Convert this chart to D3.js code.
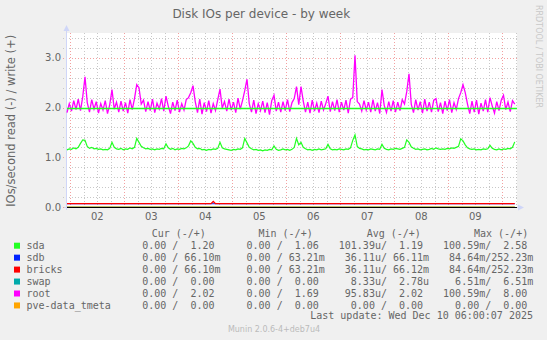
<!DOCTYPE html>
<html>
<head>
<meta charset="utf-8">
<title>Disk IOs per device - by week</title>
<script src="https://d3js.org/d3.v7.min.js"></script>
<style>
  body { margin: 0; background: #f0f0f0; }
  svg { display: block; }
  text { fill: #666; font-family: "DejaVu Sans", sans-serif; }
  .mono { font-family: "DejaVu Sans Mono", monospace; font-size: 10px; white-space: pre; }
</style>
</head>
<body>
<svg></svg>
<script>
var svgWidth = 547, svgHeight = 340;

// time axis: one sample per hour starting at startTime
var startTime = new Date(2025, 11, 1, 22, 30);
var endTime   = new Date(2025, 11, 10, 6, 30);
var dayLabels = [2, 3, 4, 5, 6, 7, 8, 9];
var yTicks    = [0, 1, 2, 3];

// root write IOs/s (magenta)
var rootWrite = [
  1.90,2.08,1.93,2.14,1.96,2.17,1.94,2.22,2.62,2.10,1.91,2.16,1.97,2.12,1.89,2.08,1.95,2.14,1.88,2.06,2.36,1.97,2.11,1.91,
  2.13,1.93,2.10,1.89,2.16,1.96,2.18,2.46,2.40,2.07,2.15,1.92,2.12,1.94,2.17,1.90,2.09,1.97,2.18,1.93,2.23,2.03,1.88,2.11,
  1.94,2.15,1.91,2.08,1.95,2.16,2.20,2.30,2.44,2.12,1.90,2.17,1.87,2.10,1.92,2.14,1.89,2.08,1.94,2.16,2.37,1.99,2.12,1.93,
  2.17,1.95,2.11,1.90,2.19,1.97,2.14,2.34,2.57,2.08,1.91,2.15,1.88,2.08,1.94,2.13,1.90,2.10,1.86,2.14,2.25,1.93,2.11,1.91,
  2.12,1.94,2.16,1.92,2.10,2.18,2.42,2.06,2.42,2.13,1.91,2.11,1.89,2.15,1.93,2.09,1.90,2.13,1.95,2.08,2.23,1.92,2.12,1.94,
  2.16,1.91,2.11,1.95,2.15,1.89,2.17,2.20,3.05,2.12,2.07,1.93,2.14,1.95,2.11,1.91,2.16,1.93,2.10,1.88,2.36,2.04,1.90,2.12,
  1.93,2.14,1.91,2.11,1.94,2.16,2.07,2.32,2.68,2.07,1.90,2.16,1.95,2.12,1.89,2.17,1.93,2.11,1.91,2.15,2.18,1.92,2.10,1.88,
  2.13,1.94,2.16,1.90,2.10,1.96,2.18,2.30,2.46,2.30,2.07,1.88,2.13,1.91,2.15,1.87,2.09,1.93,2.16,1.91,2.20,2.03,1.89,2.12,
  1.94,2.15,2.25,1.96,2.11,1.92,2.14,2.07
];

// sda write IOs/s (green)
var sdaWrite = [
  1.15,1.17,1.16,1.19,1.17,1.20,1.28,1.35,1.34,1.22,1.18,1.20,1.17,1.18,1.16,1.17,1.15,1.16,1.15,1.18,1.30,1.20,1.17,1.16,
  1.18,1.15,1.17,1.16,1.19,1.17,1.20,1.38,1.30,1.22,1.19,1.17,1.18,1.16,1.17,1.15,1.17,1.16,1.18,1.17,1.27,1.19,1.16,1.18,
  1.15,1.17,1.16,1.18,1.17,1.19,1.23,1.33,1.28,1.20,1.17,1.18,1.15,1.16,1.14,1.16,1.15,1.17,1.16,1.18,1.30,1.19,1.17,1.16,
  1.15,1.14,1.16,1.15,1.17,1.16,1.19,1.38,1.29,1.20,1.17,1.15,1.16,1.14,1.15,1.13,1.15,1.14,1.16,1.15,1.23,1.16,1.14,1.15,
  1.17,1.15,1.16,1.14,1.16,1.20,1.38,1.25,1.30,1.20,1.17,1.15,1.16,1.14,1.16,1.15,1.17,1.15,1.16,1.17,1.26,1.17,1.15,1.16,
  1.15,1.17,1.16,1.15,1.17,1.16,1.19,1.34,1.45,1.22,1.18,1.17,1.15,1.16,1.15,1.17,1.16,1.15,1.17,1.16,1.26,1.18,1.16,1.15,
  1.17,1.16,1.18,1.17,1.16,1.18,1.20,1.35,1.30,1.21,1.18,1.16,1.17,1.15,1.16,1.17,1.15,1.16,1.18,1.16,1.19,1.17,1.16,1.17,
  1.16,1.18,1.17,1.19,1.18,1.20,1.22,1.37,1.33,1.25,1.19,1.17,1.16,1.17,1.15,1.16,1.15,1.17,1.16,1.17,1.24,1.18,1.16,1.15,
  1.17,1.15,1.17,1.16,1.18,1.17,1.20,1.31
];

// nearly flat series, given as [hour offset, value]
var sdbWrite    = [[0, 0.066], [199, 0.066]];
var bricksWrite = [[0, 0.066], [64, 0.066], [65, 0.11], [66, 0.066], [199, 0.066]];
var swapWrite   = [[0, 0], [199, 0]];
var pveWrite    = [[0, 0], [199, 0]];
var ruleValue   = [2.0];

// legend
var names  = ["sda", "sdb", "bricks", "swap", "root", "pve-data_tmeta"];
var colors = ["#22ff22", "#0022ff", "#ff0000", "#00aaaa", "#ff00ff", "#ffa500"];
var curVals = ["  0.00 /  1.20 ", "  0.00 / 66.10m", "  0.00 / 66.10m", "  0.00 /  0.00 ", "  0.00 /  2.02 ", "  0.00 /  0.00 "];
var minVals = ["  0.00 /  1.06 ", "  0.00 / 63.21m", "  0.00 / 63.21m", "  0.00 /  0.00 ", "  0.00 /  1.69 ", "  0.00 /  0.00 "];
var avgVals = ["101.39u/  1.19 ", " 36.11u/ 66.11m", " 36.11u/ 66.12m", "  8.33u/  2.78u", " 95.83u/  2.02 ", "  0.00 /  0.00 "];
var maxVals = ["100.59m/  2.58 ", " 84.64m/252.23m", " 84.64m/252.23m", "  6.51m/  6.51m", "100.59m/  8.00 ", "  0.00 /  0.00 "];
var headers = ["Cur (-/+)", "Min (-/+)", "Avg (-/+)", "Max (-/+)"];

var svg = d3.select("svg").attr("width", svgWidth).attr("height", svgHeight);

var x = d3.scaleTime().domain([startTime, endTime]).range([67, 517]);
var y = d3.scaleLinear().domain([0, 3.5]).range([207, 33]);
function at(h) { return d3.timeMinute.offset(startTime, h * 60); }

// canvas
svg.append("rect").attr("x", 67).attr("y", 33).attr("width", 450).attr("height", 174).attr("fill", "#fff");

// grid
var grid = svg.append("g").attr("fill", "none").attr("stroke-dasharray", "1,2");
d3.range(0, 3.5, 0.2).forEach(function (v) {
  var major = Math.abs(v - Math.round(v)) < 1e-6;
  var yy = Math.round(y(v)) + 0.5;
  grid.append("line").attr("x1", 63).attr("x2", 518).attr("y1", yy).attr("y2", yy)
      .attr("stroke", major ? "#f3a0a0" : "#c8c8c8");
});
d3.timeHour.every(6).range(startTime, endTime).forEach(function (t) {
  var xx = Math.round(x(t)) + 0.5;
  grid.append("line").attr("x1", xx).attr("x2", xx).attr("y1", 33).attr("y2", 210)
      .attr("stroke", t.getHours() === 0 ? "#f3a0a0" : "#c8c8c8");
});

// axes (lavender with arrows)
svg.append("line").attr("x1", 66.5).attr("x2", 66.5).attr("y1", 210).attr("y2", 29).attr("stroke", "#cfd6f8");
svg.append("path").attr("d", "M63.5,31L66.5,25L69.5,31Z").attr("fill", "#cfd6f8");
svg.append("line").attr("x1", 64).attr("x2", 519).attr("y1", 207.5).attr("y2", 207.5).attr("stroke", "#cfd6f8");
svg.append("path").attr("d", "M518,204.5L524,207.5L518,210.5Z").attr("fill", "#cfd6f8");

// series
var line = d3.line().x(function (d) { return x(at(d[0])); }).y(function (d) { return y(d[1]); });
function dense(arr) { return arr.map(function (v, i) { return [i, v]; }); }
var plot = svg.append("g").attr("fill", "none").attr("stroke-width", 1);
plot.append("path").attr("d", line(swapWrite)).attr("stroke", colors[3]);
plot.append("path").attr("d", line(pveWrite)).attr("stroke", colors[5]);
plot.append("path").attr("d", line(sdbWrite)).attr("stroke", colors[1]);
plot.append("path").attr("d", line(bricksWrite)).attr("stroke", colors[2]).attr("stroke-width", 1.3);
plot.append("path").attr("d", line(dense(sdaWrite))).attr("stroke", colors[0]).attr("stroke-width", 1.2);
plot.append("path").attr("d", line(dense(rootWrite))).attr("stroke", colors[4]).attr("stroke-width", 1.3);
ruleValue.forEach(function (v) {
  var yy = Math.round(y(v)) + 0.5;
  plot.append("line").attr("x1", 67).attr("x2", 517).attr("y1", yy).attr("y2", yy)
      .attr("stroke", colors[0]).attr("stroke-width", 1.6);
});
// zero line
svg.append("line").attr("x1", 67).attr("x2", 517).attr("y1", 207.5).attr("y2", 207.5).attr("stroke", "#000");

// tick labels
svg.selectAll(".ytick").data(yTicks).enter().append("text")
  .attr("x", 61).attr("y", function (d) { return y(d) + 3.6; })
  .attr("text-anchor", "end").attr("font-size", "10px")
  .text(function (d) { return d3.format(".1f")(d); });
svg.selectAll(".xtick").data(dayLabels).enter().append("text")
  .attr("x", function (d) { return x(new Date(2025, 11, d, 12)); }).attr("y", 220)
  .attr("text-anchor", "middle").attr("font-size", "10px")
  .text(function (d) { return d3.format("02d")(d); });

// titles
svg.append("text").attr("x", 261.3).attr("y", 17.5).attr("text-anchor", "middle")
  .attr("font-size", "12px").text("Disk IOs per device - by week");
svg.append("text").attr("transform", "translate(14.5,120.8) rotate(-90)").attr("text-anchor", "middle")
  .attr("font-size", "11.5px").text("IOs/second read (-) / write (+)");
svg.append("text").attr("transform", "translate(535.5,5) rotate(90)").attr("text-anchor", "start")
  .attr("font-size", "8px").style("fill", "#c8c8c8").text("RRDTOOL / TOBI OETIKER");

// legend
var headX = [151.7, 258.5, 366.7, 474];
headers.forEach(function (h, i) {
  svg.append("text").attr("class", "mono").attr("x", headX[i]).attr("y", 237).text(h);
});
var colEnds = [220.5, 324.8, 429.1, 533.4];
var rowY = function (i) { return 245.7 + i * 11.95; };
names.forEach(function (n, i) {
  svg.append("rect").attr("x", 14).attr("y", rowY(i) - 3).attr("width", 6).attr("height", 6).attr("fill", colors[i]);
  svg.append("text").attr("class", "mono").attr("x", 26.5).attr("y", rowY(i) + 3.6).text(n);
  [curVals, minVals, avgVals, maxVals].forEach(function (col, j) {
    svg.append("text").attr("class", "mono").attr("x", colEnds[j]).attr("y", rowY(i) + 3.6)
      .attr("text-anchor", "end").text(col[i]);
  });
});
svg.append("text").attr("class", "mono").attr("x", 533).attr("y", 319.3).attr("text-anchor", "end")
  .text("Last update: Wed Dec 10 06:00:07 2025");
svg.append("text").attr("x", 274).attr("y", 332).attr("text-anchor", "middle")
  .attr("font-size", "8px").style("fill", "#bbb").text("Munin 2.0.6-4+deb7u4");
</script>
</body>
</html>
